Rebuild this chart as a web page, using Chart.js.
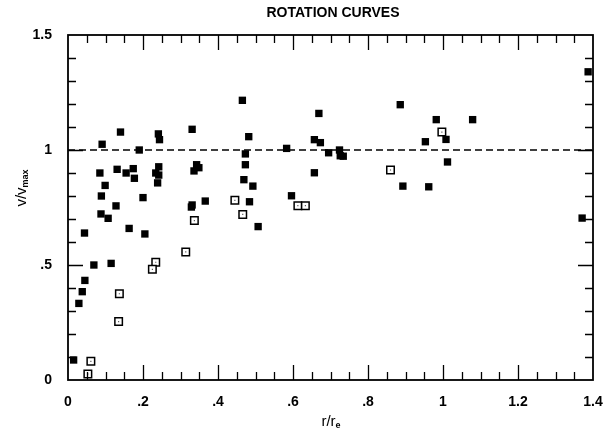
<!DOCTYPE html>
<html lang="en">
<head>
  <meta charset="UTF-8" />
  <title>Rotation Curves</title>
  <style>
    body {
      margin: 0;
      background-color: #fff;
    }
    #wrap {
      width: 603px;
      height: 432px;
    }
  </style>
</head>
<body>
  <div id="wrap"><canvas id="rotChart" width="603" height="432"></canvas></div>
  <script src="https://cdn.jsdelivr.net/npm/chart.js"></script>
  <script>
    // values
    const filledX = [0.140, 0.241, 0.244, 0.091, 0.190, 0.085, 0.131, 0.155, 0.174, 0.177,
      0.242, 0.234, 0.242, 0.239, 0.099, 0.089, 0.200, 0.128, 0.088, 0.107,
      0.044, 0.163, 0.205, 0.465, 0.331, 0.482, 0.473, 0.583, 0.343, 0.349,
      0.336, 0.473, 0.469, 0.493, 0.596, 0.366, 0.331, 0.329, 0.484, 0.507,
      0.069, 0.115, 0.045, 0.038, 0.029, 0.015, 0.669, 0.886, 0.657, 0.673,
      0.695, 0.724, 0.726, 0.734, 0.657, 0.982, 1.008, 0.953, 1.012, 0.893,
      0.962, 1.079, 1.387, 1.371];
    const filledY = [1.078, 1.070, 1.045, 1.025, 1.000, 0.900, 0.916, 0.900, 0.919, 0.877,
      0.927, 0.900, 0.891, 0.857, 0.846, 0.800, 0.793, 0.757, 0.722, 0.703,
      0.639, 0.659, 0.635, 1.216, 1.090, 1.058, 0.983, 1.007, 0.936, 0.923,
      0.909, 0.936, 0.871, 0.843, 0.801, 0.778, 0.761, 0.752, 0.775, 0.667,
      0.500, 0.507, 0.433, 0.384, 0.333, 0.087, 1.159, 1.197, 1.045, 1.032,
      0.988, 1.000, 0.975, 0.973, 0.901, 1.132, 1.046, 1.036, 0.948, 0.843,
      0.840, 1.132, 1.340, 0.704];
    const openX = [0.445, 0.613, 0.633, 0.466, 0.337, 0.314, 0.234, 0.225, 0.137, 0.135,
      0.061, 0.053, 0.860, 0.997];
    const openY = [0.781, 0.758, 0.758, 0.720, 0.693, 0.557, 0.512, 0.481, 0.375, 0.254,
      0.081, 0.026, 0.913, 1.078];
    const refX = [0, 1.4];
    const refY = [1, 1];
    const xTickLabels = ['0', '.2', '.4', '.6', '.8', '1', '1.2', '1.4'];
    const yTickLabels = ['0', '.5', '1', '1.5'];

    const toPts = (xs, ys) => xs.map((x, i) => ({ x: x, y: ys[i] }));
    const FONT = "'Liberation Sans', Arial, Helvetica, sans-serif";

    // inside ticks on all four sides, frame, title and axis labels
    const framePlugin = {
      id: 'frame',
      afterDraw(chart) {
        const ctx = chart.ctx;
        const a = chart.chartArea;
        const xs = chart.scales.x, ys = chart.scales.y;
        ctx.save();
        ctx.strokeStyle = '#000';
        ctx.lineWidth = 1.8;
        ctx.strokeRect(a.left, a.top, a.right - a.left, a.bottom - a.top);
        ctx.lineWidth = 1.3;
        ctx.beginPath();
        for (let i = 1; i < 28; i++) {
          const px = Math.round(xs.getPixelForValue(i * 0.05)) + 0.5;
          const len = i % 4 === 0 ? 15 : 8;
          ctx.moveTo(px, a.bottom); ctx.lineTo(px, a.bottom - len);
          ctx.moveTo(px, a.top); ctx.lineTo(px, a.top + len);
        }
        for (let i = 1; i < 15; i++) {
          const py = Math.round(ys.getPixelForValue(i * 0.1)) + 0.5;
          const len = i % 5 === 0 ? 15 : 8;
          ctx.moveTo(a.left, py); ctx.lineTo(a.left + len, py);
          ctx.moveTo(a.right, py); ctx.lineTo(a.right - len, py);
        }
        ctx.stroke();

        ctx.fillStyle = '#000';
        ctx.textBaseline = 'middle';
        ctx.textAlign = 'center';
        ctx.font = 'bold 14px ' + FONT;
        ctx.fillText('ROTATION CURVES', 333, 13);

        // x title r/r_e
        drawSub(ctx, 'r/r', 'e', 331, 422, 0);
        // y title v/v_max
        drawSub(ctx, 'v/v', 'max', 22, 188, -Math.PI / 2);
        ctx.restore();
      }
    };

    function drawSub(ctx, main, sub, cx, cy, rot) {
      ctx.save();
      ctx.translate(cx, cy);
      ctx.rotate(rot);
      ctx.font = '15px ' + FONT;
      const w1 = ctx.measureText(main).width;
      ctx.font = 'bold 9px ' + FONT;
      const w2 = ctx.measureText(sub).width;
      const start = -(w1 + w2) / 2;
      ctx.textAlign = 'left';
      ctx.textBaseline = 'middle';
      ctx.font = '15px ' + FONT;
      ctx.fillText(main, start, 0);
      ctx.font = 'bold 9px ' + FONT;
      ctx.fillText(sub, start + w1, 4);
      ctx.restore();
    }

    const fmt = v => {
      const s = String(+v.toFixed(2));
      return s.replace(/^0\./, '.');
    };

    new Chart(document.getElementById('rotChart'), {
      type: 'scatter',
      data: {
        datasets: [
          {
            label: 'filled',
            data: toPts(filledX, filledY),
            pointStyle: 'rect',
            pointRadius: 5.2,
            backgroundColor: '#000',
            borderWidth: 0,
            order: 1
          },
          {
            label: 'open',
            data: toPts(openX, openY),
            pointStyle: 'rect',
            pointRadius: 5.3,
            backgroundColor: '#fff',
            borderColor: '#000',
            borderWidth: 1.5,
            order: 2
          },
          {
            label: 'open centre',
            data: toPts(openX, openY),
            pointStyle: 'rect',
            pointRadius: 0.8,
            backgroundColor: '#555',
            borderWidth: 0,
            order: 0
          },
          {
            label: 'v = vmax',
            type: 'line',
            data: toPts(refX, refY),
            borderColor: '#000',
            borderWidth: 1.5,
            borderDash: [7, 4],
            pointRadius: 0,
            order: 3
          }
        ]
      },
      options: {
        responsive: false,
        animation: false,
        layout: { padding: { top: 35, right: 10, left: 0, bottom: 0 } },
        plugins: {
          legend: { display: false },
          tooltip: { enabled: false }
        },
        scales: {
          x: {
            type: 'linear',
            min: 0,
            max: 1.4,
            grid: { display: false },
            border: { display: false },
            afterFit: s => { s.height = 52; s.paddingRight = 0; s.paddingLeft = 0; },
            ticks: {
              stepSize: 0.2,
              padding: 6,
              color: '#000',
              font: { family: FONT, size: 14, weight: 'bold' },
              maxRotation: 0,
              callback: (v, i) => xTickLabels[i] !== undefined ? xTickLabels[i] : fmt(v)
            }
          },
          y: {
            min: 0,
            max: 1.5,
            grid: { display: false },
            border: { display: false },
            afterFit: s => { s.width = 68; },
            ticks: {
              stepSize: 0.5,
              padding: 8,
              color: '#000',
              font: { family: FONT, size: 14, weight: 'bold' },
              callback: (v, i) => yTickLabels[i] !== undefined ? yTickLabels[i] : fmt(v)
            }
          }
        }
      },
      plugins: [framePlugin]
    });
  </script>
</body>
</html>
